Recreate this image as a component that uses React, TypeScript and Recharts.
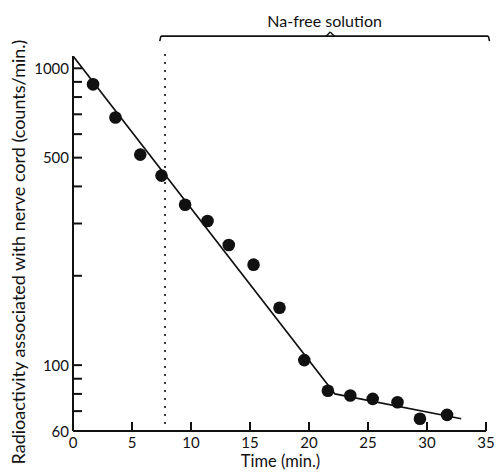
import { ComposedChart, XAxis, YAxis, Scatter, Line, ReferenceLine } from 'recharts';

// time (min.) and radioactivity (counts/min.) of each measured point
const times = [1.7, 3.6, 5.7, 7.5, 9.5, 11.4, 13.2, 15.3, 17.5, 19.6, 21.6, 23.5, 25.4, 27.5, 29.4, 31.7];
const counts = [883, 683, 512, 435, 347, 306, 254, 218, 156, 104, 82, 79, 77, 75, 66, 68];

// fitted straight lines (log scale)
const fitTimes = [0, 22.2, 32.9];
const fitCounts = [1100, 80, 66];

const xTicks = [0, 5, 10, 15, 20, 25, 30, 35];
const yTicks = [60, 70, 80, 90, 100, 200, 300, 400, 500, 600, 700, 800, 900, 1000];
const yLabelled = [60, 100, 500, 1000];

// Na-free period marker
const naFreeStart = 7.8;
const bracketFrom = 7.45;
const bracketTo = 35.2;
const bracketMid = 21.8;
const bracketLevel = 1283;
const bracketHook = 1235;
const bracketPeak = 1325;
const dottedTop = 1169;

const points = times.map((t, i) => ({ t, c: counts[i] }));
const fit = fitTimes.map((t, i) => ({ t, c: fitCounts[i] }));

const font = 'Lato, "Open Sans", sans-serif';
const ink = '#111';

function YTick(props: any) {
  const { x, y, payload } = props;
  const v = payload.value;
  return (
    <g>
      <line x1={x} y1={y} x2={x + 9} y2={y} stroke={ink} strokeWidth={2} />
      {yLabelled.includes(v) && (
        <text x={x - 4} y={y + 5.5} textAnchor="end" fontSize={15} fontFamily={font} fill={ink}>
          {v}
        </text>
      )}
    </g>
  );
}

function XTick(props: any) {
  const { x, y, payload } = props;
  return (
    <g>
      <line x1={x} y1={y} x2={x} y2={y - 9} stroke={ink} strokeWidth={2} />
      <text x={x} y={y + 16.5} textAnchor="middle" fontSize={15} fontFamily={font} fill={ink}>
        {payload.value}
      </text>
    </g>
  );
}

function YTitle(props: any) {
  const { viewBox } = props;
  const cx = viewBox.x + 25;
  const cy = 252;
  return (
    <text
      x={cx}
      y={cy}
      transform={`rotate(-90 ${cx} ${cy})`}
      textAnchor="middle"
      fontSize={18}
      fontFamily={font}
      fill={ink}
    >
      Radioactivity associated with nerve cord (counts/min.)
    </text>
  );
}

function XTitle(props: any) {
  const { viewBox } = props;
  return (
    <text
      x={viewBox.x + viewBox.width / 2 + 1}
      y={viewBox.y + 36}
      textAnchor="middle"
      fontSize={16.5}
      fontFamily={font}
      fill={ink}
    >
      Time (min.)
    </text>
  );
}

const Dot = (p: any) => <circle cx={p.cx} cy={p.cy} r={6.3} fill={ink} />;

export default function App() {
  return (
    <div style={{ position: 'absolute', left: 0, top: 0, background: '#fff' }}>
      <ComposedChart width={497} height={473} margin={{ top: 56, right: 11, bottom: 0, left: 0 }}>
        <XAxis
          type="number"
          dataKey="t"
          domain={[0, 35]}
          ticks={xTicks}
          interval={0}
          height={42}
          tickSize={0}
          tickMargin={0}
          tickLine={false}
          tick={<XTick />}
          axisLine={{ stroke: ink, strokeWidth: 2 }}
          label={<XTitle />}
        />
        <YAxis
          type="number"
          dataKey="c"
          scale="log"
          domain={[60, 1100]}
          allowDataOverflow
          ticks={yTicks}
          interval={0}
          width={73}
          tickSize={0}
          tickMargin={0}
          tickLine={false}
          tick={<YTick />}
          axisLine={{ stroke: ink, strokeWidth: 2 }}
          label={<YTitle />}
        />
        <ReferenceLine
          segment={[{ x: naFreeStart, y: 60 }, { x: naFreeStart, y: dottedTop }]}
          ifOverflow="visible"
          stroke={ink}
          strokeWidth={2.2}
          strokeDasharray="0 8"
          strokeLinecap="round"
        />
        <ReferenceLine
          segment={[{ x: bracketFrom, y: bracketLevel }, { x: bracketTo, y: bracketLevel }]}
          ifOverflow="visible"
          stroke={ink}
          strokeWidth={1.6}
          label={{ value: 'Na-free solution', position: 'top', offset: 9.5, fill: ink, fontSize: 16, fontFamily: font }}
        />
        <ReferenceLine
          segment={[{ x: bracketFrom - 0.1, y: bracketHook }, { x: bracketFrom, y: bracketLevel }]}
          ifOverflow="visible"
          stroke={ink}
          strokeWidth={1.6}
        />
        <ReferenceLine
          segment={[{ x: bracketTo, y: bracketLevel }, { x: bracketTo + 0.1, y: bracketHook }]}
          ifOverflow="visible"
          stroke={ink}
          strokeWidth={1.6}
        />
        <ReferenceLine
          segment={[{ x: bracketMid - 0.35, y: bracketLevel }, { x: bracketMid, y: bracketPeak }]}
          ifOverflow="visible"
          stroke={ink}
          strokeWidth={1.4}
        />
        <ReferenceLine
          segment={[{ x: bracketMid, y: bracketPeak }, { x: bracketMid + 0.35, y: bracketLevel }]}
          ifOverflow="visible"
          stroke={ink}
          strokeWidth={1.4}
        />
        <Line
          data={fit}
          dataKey="c"
          type="linear"
          stroke={ink}
          strokeWidth={1.7}
          dot={false}
          activeDot={false}
          isAnimationActive={false}
        />
        <Scatter data={points} dataKey="c" shape={Dot} isAnimationActive={false} />
      </ComposedChart>
    </div>
  );
}
